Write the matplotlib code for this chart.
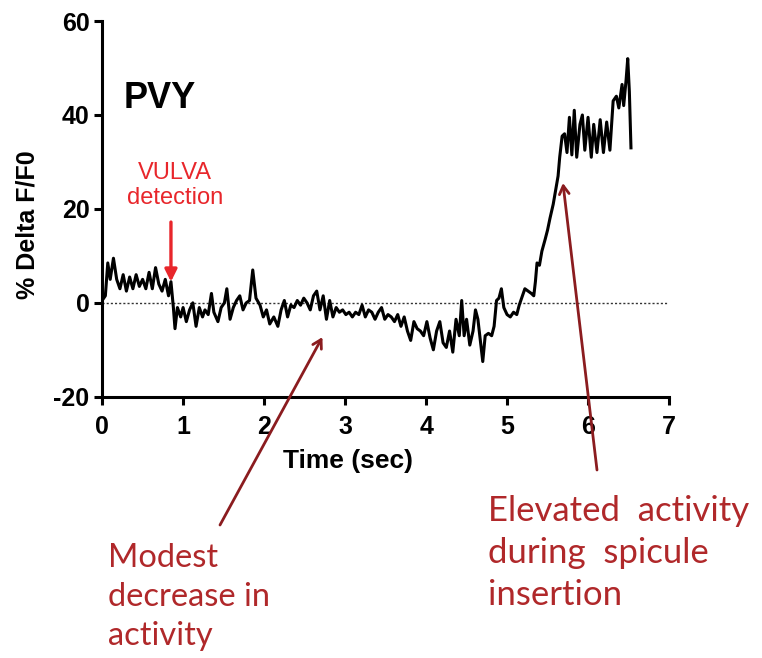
import numpy as np
import matplotlib.pyplot as plt

# PVY calcium trace
time_sec = [0.00, 0.04, 0.07, 0.10, 0.14, 0.18, 0.22, 0.26, 0.30, 0.34, 0.38, 0.42, 0.46, 0.50,
            0.54, 0.58, 0.62, 0.66, 0.70, 0.74, 0.78, 0.82, 0.85, 0.88, 0.90, 0.93, 0.97, 1.00,
            1.04, 1.08, 1.12, 1.16, 1.20, 1.24, 1.27, 1.31, 1.35, 1.38, 1.43, 1.47, 1.51, 1.54,
            1.58, 1.62, 1.66, 1.70, 1.74, 1.78, 1.82, 1.86, 1.90, 1.95, 1.99, 2.03, 2.07, 2.12,
            2.17, 2.21, 2.25, 2.29, 2.33, 2.37, 2.41, 2.45, 2.49, 2.53, 2.57, 2.61, 2.65, 2.69,
            2.73, 2.77, 2.81, 2.85, 2.89, 2.93, 2.97, 3.01, 3.05, 3.09, 3.13, 3.17, 3.21, 3.25,
            3.29, 3.33, 3.37, 3.41, 3.45, 3.49, 3.53, 3.57, 3.61, 3.65, 3.69, 3.73, 3.77, 3.81,
            3.85, 3.89, 3.93, 3.97, 4.01, 4.05, 4.09, 4.13, 4.17, 4.21, 4.25, 4.29, 4.33, 4.37,
            4.41, 4.44, 4.47, 4.50, 4.54, 4.58, 4.61, 4.64, 4.67, 4.70, 4.73, 4.77, 4.81, 4.84,
            4.87, 4.90, 4.93, 4.96, 5.00, 5.04, 5.08, 5.12, 5.15, 5.19, 5.22, 5.26, 5.30, 5.33,
            5.35, 5.37, 5.40, 5.43, 5.47, 5.50, 5.53, 5.57, 5.60, 5.63, 5.65, 5.68, 5.71, 5.74,
            5.77, 5.80, 5.83, 5.86, 5.90, 5.93, 5.96, 6.00, 6.04, 6.07, 6.11, 6.15, 6.19, 6.23,
            6.27, 6.31, 6.35, 6.38, 6.42, 6.44, 6.47, 6.49, 6.51, 6.53]
delta_f = [0.5, 1.5, 8.5, 5, 9.5, 5, 3, 6, 2.5, 5.5, 3, 6, 3.5, 5,
           3, 6.5, 3, 7.5, 4, 2.5, 5, 1.5, 4.5, -1, -5.5, -1, -3, -1,
           -4, -1.5, 0, -5, -1, -3, -1.5, -2.5, 2, -2, -4, -1, 0, 3,
           -3.5, -1, 0.5, 1.5, -1.5, 0, 0.5, 7, 1, -0.5, -3, -1.5, -4.5, -3,
           -5, -1.5, 0.5, -3, -0.5, -1, 0.5, -0.5, 1, 0, -1.5, 1.5, 2.5, -1.5,
           1.5, -3.5, 0.5, -3, -1, -2, -1.5, -2.5, -2, -3, -2, -2.5, -0.5, -3,
           -1.5, -2, -3.5, -2, -1, -3.5, -2.5, -3, -4, -2.5, -5, -3, -6, -8,
           -4, -5.5, -6, -7, -4, -7.5, -10, -6, -4, -8.5, -9.5, -6, -10.5, -3.5,
           -7, 0.5, -7, -3.5, -9, -6, -1.5, -3.5, -8, -12.5, -7, -6.5, -7, -5,
           0.5, 1, 3, -1, -2.5, -3, -2, -2.5, -0.5, 1.5, 3, 2.5, 2, 1.5,
           4.5, 8.5, 8, 11, 13.5, 15.5, 18, 21, 24, 27, 31, 35.5, 36, 32,
           39.5, 31.5, 41, 31, 38, 40, 32.5, 39.5, 31, 38, 32, 39, 32, 38.5,
           32.5, 43, 44, 41.5, 46.5, 42, 47.5, 52, 45, 33]

x_ticks = [0, 1, 2, 3, 4, 5, 6, 7]
y_ticks = [-20, 0, 20, 40, 60]

plt.rcParams['font.family'] = ['Liberation Sans', 'DejaVu Sans']
plt.rcParams['axes.unicode_minus'] = False

fig = plt.figure(figsize=(7.62, 6.58), dpi=100)
ax = fig.add_axes([0.134, 0.397, 0.744, 0.571])

ax.axhline(0, color='#333333', lw=1.0, ls=(0, (1.5, 1.5)), zorder=1)
ax.plot(time_sec, delta_f, color='black', lw=2.2, zorder=3)

ax.set_xlim(0, 7)
ax.set_ylim(-20, 60)
ax.set_xticks(x_ticks)
ax.set_yticks(y_ticks)
for s in ['top', 'right']:
    ax.spines[s].set_visible(False)
for s in ['left', 'bottom']:
    ax.spines[s].set_linewidth(2.2)
ax.tick_params(direction='out', length=6, width=2.2, labelsize=18)
ax.tick_params(axis='x', pad=7)
ax.tick_params(axis='y', pad=3)
for lab in ax.get_xticklabels() + ax.get_yticklabels():
    lab.set_fontweight('bold')
ax.set_xlabel('Time (sec)', fontsize=19, fontweight='bold')
ax.set_ylabel('% Delta F/F0', fontsize=18, fontweight='bold')
ax.xaxis.set_label_coords(0.434, -0.14)
ax.yaxis.set_label_coords(-0.11, 0.457)

ax.text(0.27, 43.6, 'PVY', fontsize=26, fontweight='bold', va='center', ha='left')
ax.text(0.9, 25.0, 'VULVA\ndetection', color='#e8262b', fontsize=17,
        ha='center', va='center', linespacing=1.2)
ax.annotate('', xy=(0.85, 4.5), xytext=(0.85, 17.2),
            arrowprops=dict(arrowstyle='-|>', color='#e8262b', lw=2.4,
                            mutation_scale=18, shrinkA=0, shrinkB=0))

dark_red = '#8b1c1f'
text_red = '#b0282a'
ax.annotate('', xy=(2.72, -7.3), xytext=(220 / 762, 1 - 525 / 658),
            textcoords='figure fraction',
            arrowprops=dict(arrowstyle='->,head_length=0.6,head_width=0.35', color=dark_red, lw=2.0,
                            shrinkA=0, shrinkB=0),
            annotation_clip=False)
ax.annotate('', xy=(5.69, 25.5), xytext=(597 / 762, 1 - 470 / 658),
            textcoords='figure fraction',
            arrowprops=dict(arrowstyle='->,head_length=0.6,head_width=0.35', color=dark_red, lw=2.0,
                            shrinkA=0, shrinkB=0),
            annotation_clip=False)

fig.text(108 / 762, 1 - 597 / 658, 'Modest\ndecrease in\nactivity', color=text_red,
         fontsize=23.5, family=['Lato', 'DejaVu Sans'], ha='left', va='center', linespacing=1.38)
fig.text(488 / 762, 1 - 553 / 658, 'Elevated  activity\nduring  spicule\ninsertion', color=text_red,
         fontsize=25, family=['Lato', 'DejaVu Sans'], ha='left', va='center', linespacing=1.4)

fig.savefig('out.png', dpi=100)
